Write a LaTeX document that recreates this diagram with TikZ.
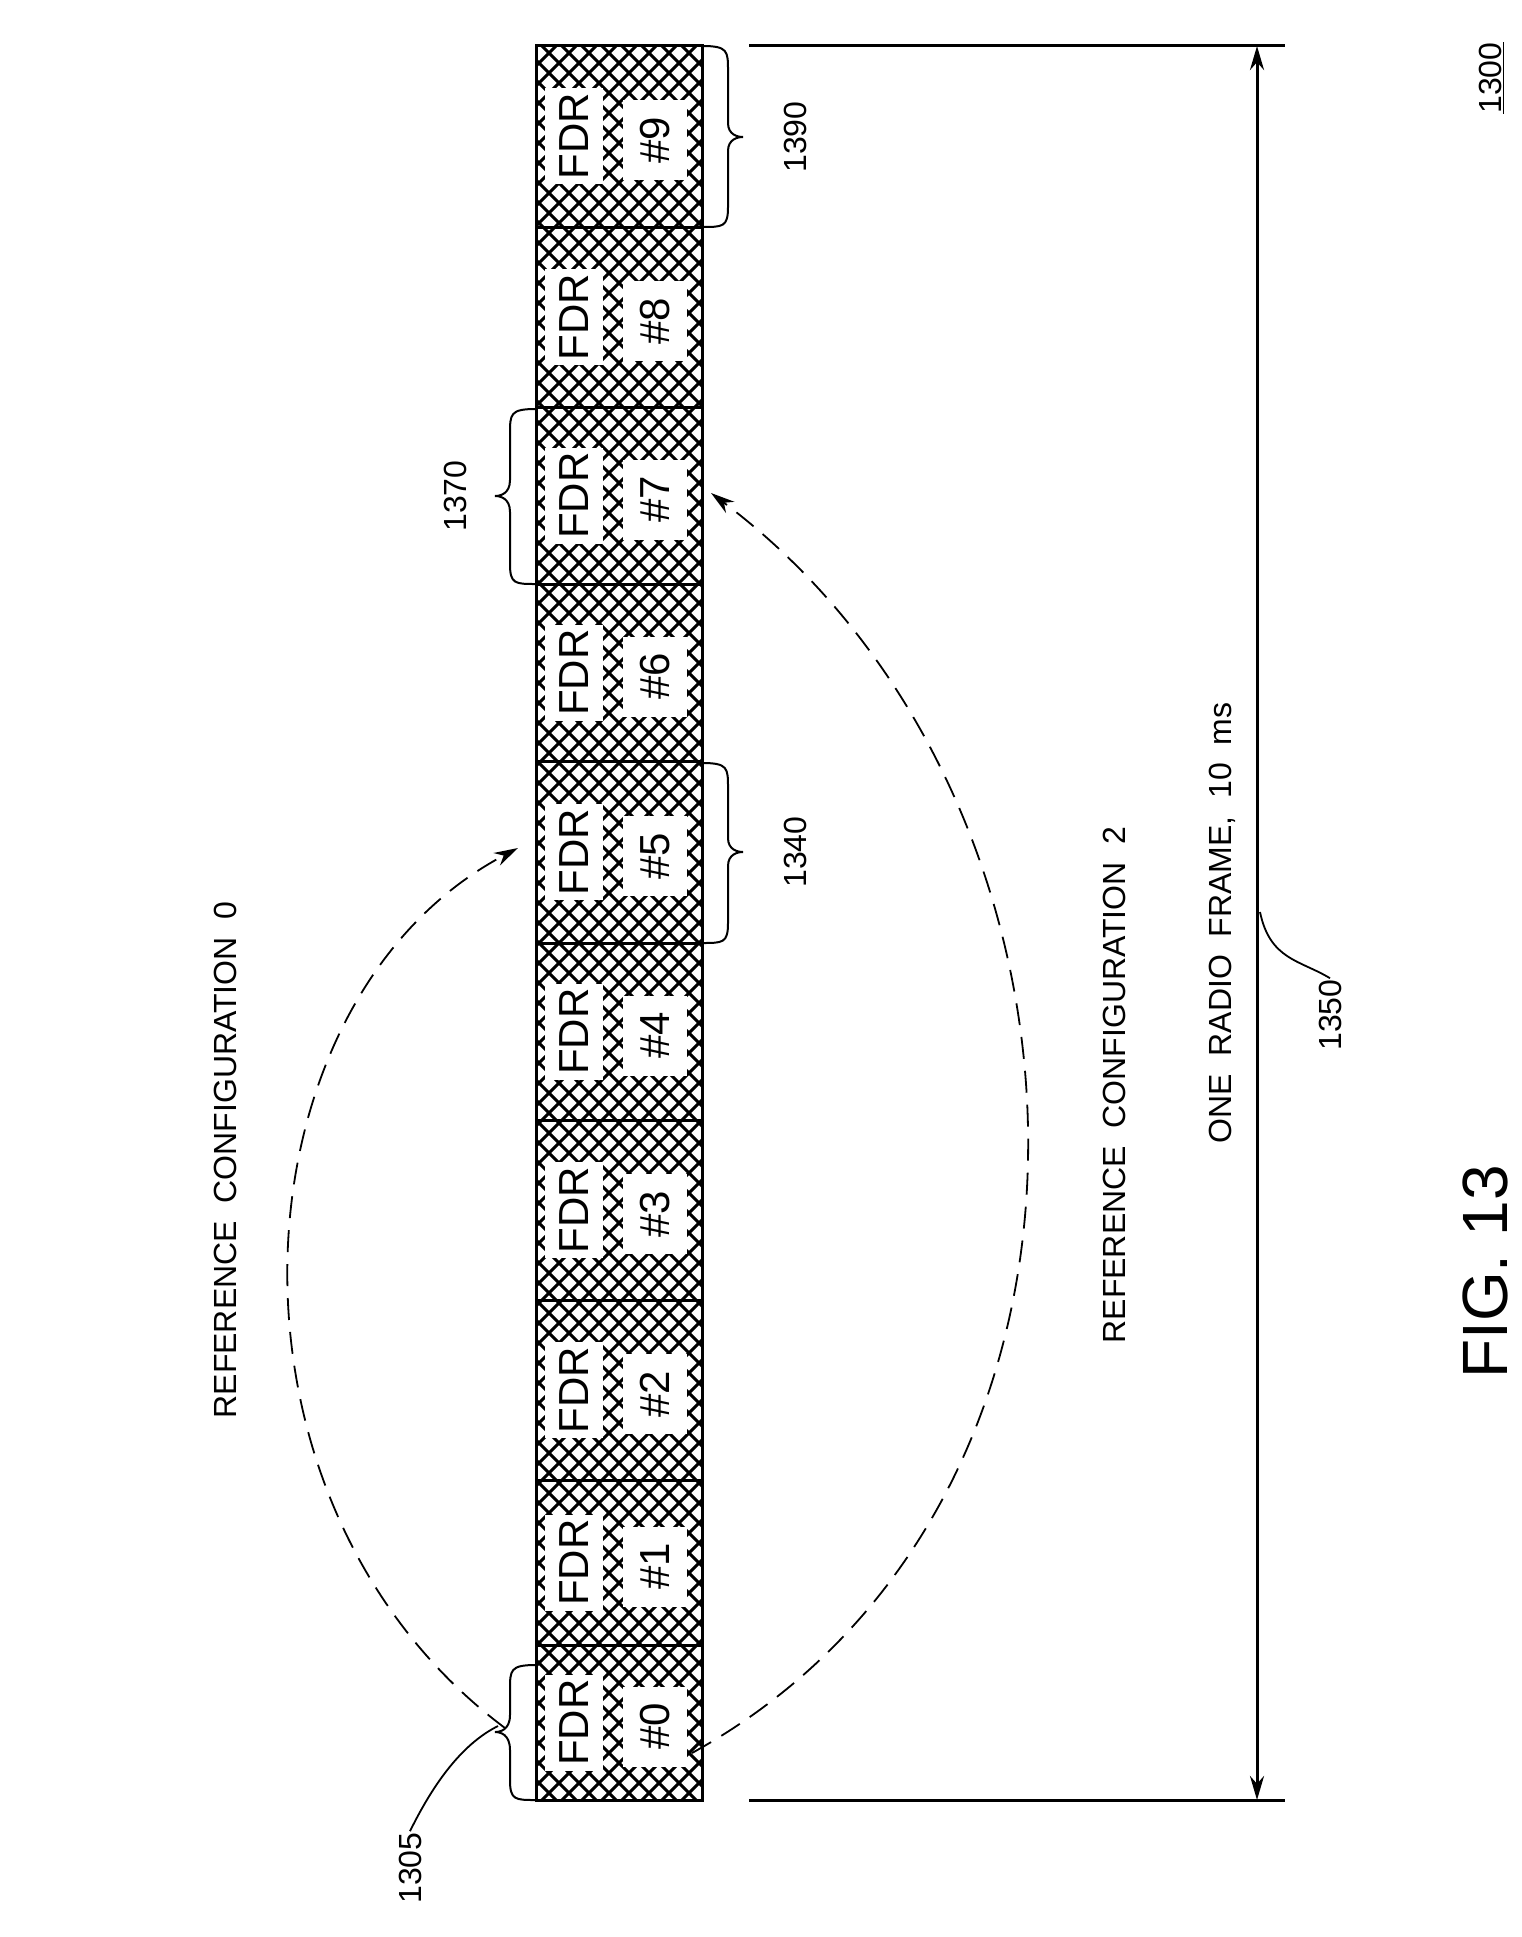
\documentclass[tikz,border=0pt]{standalone}
\usepackage{fontspec}
\setmainfont{Liberation Sans}
\usetikzlibrary{arrows.meta}
\begin{document}
\begin{tikzpicture}[x=1pt,y=-1pt,
  lbl/.style={rotate=90,font=\fontsize{32}{34}\selectfont,inner sep=1pt},
  seg/.style={rotate=90,font=\fontsize{42}{44}\selectfont,fill=white,inner sep=0pt,minimum height=58pt,minimum width=96pt},
  dashline/.style={dash pattern=on 22pt off 12pt,line width=1.8pt},
  thk/.style={line width=3pt}]
\useasboundingbox (0,0) rectangle (1522,1937);
% hatch
\begin{scope}
\clip (536,46) rectangle (702,1800);
\foreach \t in {-200,-180,...,1820}{
  \draw[line width=3pt] (536,\t) -- (702,\t+166);
  \draw[line width=3pt] (536,\t+166) -- (702,\t);
}
\end{scope}
\foreach \ya/\yb [count=\i from 0] in {1645/1800,1480/1645,1300/1480,1120/1300,943/1120,761/943,584/761,407/584,227/407,46/227}{
  \node[seg] (f\i) at (574,{(\ya+\yb)/2}) {FDR};
  \node[seg,minimum width=80pt,minimum height=64pt] (n\i) at (655,{(\ya+\yb)/2+4}) {\#\i};
}
\draw[thk] (536,46) rectangle (702,1800);
\foreach \b in {227,407,584,761,943,1120,1300,1480,1645}{\draw[thk] (536,\b) -- (702,\b);}
% dimension
\coordinate (t1) at (749,46); \coordinate (t2) at (1285,46);
\coordinate (u1) at (749,1800); \coordinate (u2) at (1285,1800);
\draw[thk] (t1) -- (t2); \draw[thk] (u1) -- (u2);
\coordinate (d1) at (1257,46); \coordinate (d2) at (1257,1800);
\draw[thk,{Stealth[length=24pt,width=14pt]}-{Stealth[length=24pt,width=14pt]}] (d1) -- (d2);
\node[lbl] (orf) at (1222,923) {ONE\ \ RADIO\ \ FRAME,\ \ 10\ \ ms};
\node[lbl] (l1350) at (1330,1015) {1350};
\coordinate (p1350) at (1260,912);
\draw[line width=1.8pt] (p1350) .. controls (1270,960) and (1300,960) .. (l1350.east);
\node[lbl] (rc2) at (1114,1085) {REFERENCE\ \ CONFIGURATION\ \ 2};
\node[lbl] (rc0) at (225,1160) {REFERENCE\ \ CONFIGURATION\ \ 0};
\node[rotate=90,font=\fontsize{64}{66}\selectfont] (fig) at (1485,1272) {FIG. 13};
\node[lbl] (l1300) at (1491,78) {\underline{1300}};
% arcs
\coordinate (a0s) at (505,1728); \coordinate (a0e) at (518,848);
\draw[dashline,-{Stealth[length=24pt,width=14pt]}] (a0s) .. controls (200,1500) and (230,1000) .. (a0e);
\coordinate (a2s) at (692,1753); \coordinate (a2e) at (711,493);
\draw[dashline,-{Stealth[length=24pt,width=14pt]}] (a2s) .. controls (1150,1500) and (1120,800) .. (a2e);
% braces
\draw[line width=2pt] (536,1665) .. controls (510,1665) and (510,1670) .. (510,1690) -- (510,1715) .. controls (510,1730) and (500,1732) .. (495,1732) .. controls (500,1732) and (510,1734) .. (510,1750) -- (510,1780) .. controls (510,1800) and (515,1800) .. (536,1800);
\node[lbl] (l1305) at (410,1868) {1305};
\draw[line width=1.8pt] (498,1726) .. controls (470,1740) and (440,1770) .. (l1305.east);
\draw[line width=2pt] (536,409) .. controls (510,409) and (510,414) .. (510,434) -- (510,480) .. controls (510,494) and (500,496) .. (495,496) .. controls (500,496) and (510,498) .. (510,512) -- (510,564) .. controls (510,584) and (515,584) .. (536,584);
\node[lbl] (l1370) at (455,496) {1370};
\draw[line width=2pt] (702,763) .. controls (728,763) and (728,768) .. (728,788) -- (728,838) .. controls (728,850) and (738,852) .. (743,852) .. controls (738,852) and (728,854) .. (728,866) -- (728,923) .. controls (728,943) and (723,943) .. (702,943);
\node[lbl] (l1340) at (795,852) {1340};
\draw[line width=2pt] (702,46) .. controls (728,46) and (728,51) .. (728,71) -- (728,123) .. controls (728,135) and (738,137) .. (743,137) .. controls (738,137) and (728,139) .. (728,151) -- (728,207) .. controls (728,227) and (723,227) .. (702,227);
\node[lbl] (l1390) at (795,137) {1390};
\end{tikzpicture}
\end{document}
